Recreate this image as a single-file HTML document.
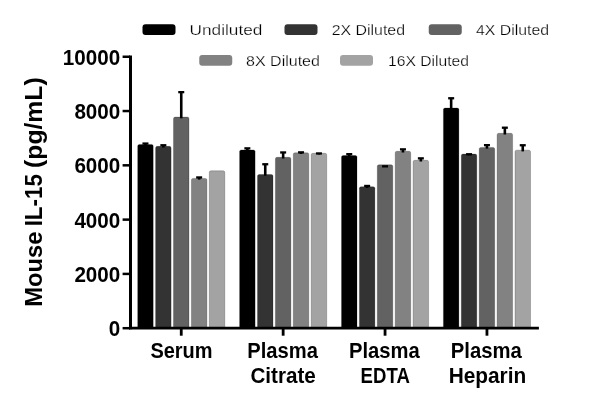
<!DOCTYPE html>
<html><head><meta charset="utf-8"><style>
html,body{margin:0;padding:0;background:#fff;width:600px;height:415px;overflow:hidden;}
svg{display:block;filter:grayscale(100%);}
</style></head><body>
<svg width="600" height="415" viewBox="0 0 600 415" font-family='"Liberation Sans", sans-serif'>
<rect x="0" y="0" width="600" height="415" fill="#fff"/>
<rect x="137.70" y="144.40" width="15.50" height="184.10" rx="1.6" fill="#000000" stroke="#000" stroke-width="0.6" stroke-opacity="0.35"/>
<rect x="155.60" y="146.35" width="15.50" height="182.15" rx="1.6" fill="#333333" stroke="#000" stroke-width="0.6" stroke-opacity="0.35"/>
<rect x="173.50" y="117.10" width="15.50" height="211.40" rx="1.6" fill="#626262" stroke="#000" stroke-width="0.6" stroke-opacity="0.35"/>
<rect x="191.40" y="178.40" width="15.50" height="150.10" rx="1.6" fill="#828282" stroke="#000" stroke-width="0.6" stroke-opacity="0.35"/>
<rect x="209.30" y="170.80" width="15.50" height="157.70" rx="1.6" fill="#a3a3a3" stroke="#000" stroke-width="0.6" stroke-opacity="0.35"/>
<rect x="239.60" y="149.90" width="15.50" height="178.60" rx="1.6" fill="#000000" stroke="#000" stroke-width="0.6" stroke-opacity="0.35"/>
<rect x="257.50" y="174.50" width="15.50" height="154.00" rx="1.6" fill="#333333" stroke="#000" stroke-width="0.6" stroke-opacity="0.35"/>
<rect x="275.40" y="157.30" width="15.50" height="171.20" rx="1.6" fill="#626262" stroke="#000" stroke-width="0.6" stroke-opacity="0.35"/>
<rect x="293.30" y="152.80" width="15.50" height="175.70" rx="1.6" fill="#828282" stroke="#000" stroke-width="0.6" stroke-opacity="0.35"/>
<rect x="311.20" y="153.30" width="15.50" height="175.20" rx="1.6" fill="#a3a3a3" stroke="#000" stroke-width="0.6" stroke-opacity="0.35"/>
<rect x="341.50" y="155.50" width="15.50" height="173.00" rx="1.6" fill="#000000" stroke="#000" stroke-width="0.6" stroke-opacity="0.35"/>
<rect x="359.40" y="186.70" width="15.50" height="141.80" rx="1.6" fill="#333333" stroke="#000" stroke-width="0.6" stroke-opacity="0.35"/>
<rect x="377.30" y="164.80" width="15.50" height="163.70" rx="1.6" fill="#626262" stroke="#000" stroke-width="0.6" stroke-opacity="0.35"/>
<rect x="395.20" y="151.30" width="15.50" height="177.20" rx="1.6" fill="#828282" stroke="#000" stroke-width="0.6" stroke-opacity="0.35"/>
<rect x="413.10" y="160.30" width="15.50" height="168.20" rx="1.6" fill="#a3a3a3" stroke="#000" stroke-width="0.6" stroke-opacity="0.35"/>
<rect x="443.40" y="108.00" width="15.50" height="220.50" rx="1.6" fill="#000000" stroke="#000" stroke-width="0.6" stroke-opacity="0.35"/>
<rect x="461.30" y="154.10" width="15.50" height="174.40" rx="1.6" fill="#333333" stroke="#000" stroke-width="0.6" stroke-opacity="0.35"/>
<rect x="479.20" y="147.40" width="15.50" height="181.10" rx="1.6" fill="#626262" stroke="#000" stroke-width="0.6" stroke-opacity="0.35"/>
<rect x="497.10" y="133.30" width="15.50" height="195.20" rx="1.6" fill="#828282" stroke="#000" stroke-width="0.6" stroke-opacity="0.35"/>
<rect x="515.00" y="150.20" width="15.50" height="178.30" rx="1.6" fill="#a3a3a3" stroke="#000" stroke-width="0.6" stroke-opacity="0.35"/>
<line x1="145.45" y1="145.60" x2="145.45" y2="143.50" stroke="#000" stroke-width="2.6"/>
<line x1="142.45" y1="143.55" x2="148.45" y2="143.55" stroke="#000" stroke-width="2.3"/>
<line x1="163.35" y1="147.55" x2="163.35" y2="145.20" stroke="#000" stroke-width="2.6"/>
<line x1="160.35" y1="145.25" x2="166.35" y2="145.25" stroke="#000" stroke-width="2.3"/>
<line x1="181.25" y1="118.30" x2="181.25" y2="92.10" stroke="#000" stroke-width="2.6"/>
<line x1="178.25" y1="92.15" x2="184.25" y2="92.15" stroke="#000" stroke-width="2.3"/>
<line x1="199.15" y1="179.60" x2="199.15" y2="177.40" stroke="#000" stroke-width="2.6"/>
<line x1="196.15" y1="177.45" x2="202.15" y2="177.45" stroke="#000" stroke-width="2.3"/>
<line x1="247.35" y1="151.10" x2="247.35" y2="148.30" stroke="#000" stroke-width="2.6"/>
<line x1="244.35" y1="148.35" x2="250.35" y2="148.35" stroke="#000" stroke-width="2.3"/>
<line x1="265.25" y1="175.70" x2="265.25" y2="164.20" stroke="#000" stroke-width="2.6"/>
<line x1="262.25" y1="164.25" x2="268.25" y2="164.25" stroke="#000" stroke-width="2.3"/>
<line x1="283.15" y1="158.50" x2="283.15" y2="152.40" stroke="#000" stroke-width="2.6"/>
<line x1="280.15" y1="152.45" x2="286.15" y2="152.45" stroke="#000" stroke-width="2.3"/>
<line x1="301.05" y1="154.00" x2="301.05" y2="152.30" stroke="#000" stroke-width="2.6"/>
<line x1="298.05" y1="152.35" x2="304.05" y2="152.35" stroke="#000" stroke-width="2.3"/>
<line x1="318.95" y1="154.50" x2="318.95" y2="153.40" stroke="#000" stroke-width="2.6"/>
<line x1="315.95" y1="153.45" x2="321.95" y2="153.45" stroke="#000" stroke-width="2.3"/>
<line x1="349.25" y1="156.70" x2="349.25" y2="154.10" stroke="#000" stroke-width="2.6"/>
<line x1="346.25" y1="154.15" x2="352.25" y2="154.15" stroke="#000" stroke-width="2.3"/>
<line x1="367.15" y1="187.90" x2="367.15" y2="185.90" stroke="#000" stroke-width="2.6"/>
<line x1="364.15" y1="185.95" x2="370.15" y2="185.95" stroke="#000" stroke-width="2.3"/>
<line x1="385.05" y1="166.00" x2="385.05" y2="166.30" stroke="#000" stroke-width="2.6"/>
<line x1="382.05" y1="166.35" x2="388.05" y2="166.35" stroke="#000" stroke-width="2.3"/>
<line x1="402.95" y1="152.50" x2="402.95" y2="149.30" stroke="#000" stroke-width="2.6"/>
<line x1="399.95" y1="149.35" x2="405.95" y2="149.35" stroke="#000" stroke-width="2.3"/>
<line x1="420.85" y1="161.50" x2="420.85" y2="158.30" stroke="#000" stroke-width="2.6"/>
<line x1="417.85" y1="158.35" x2="423.85" y2="158.35" stroke="#000" stroke-width="2.3"/>
<line x1="451.15" y1="109.20" x2="451.15" y2="98.20" stroke="#000" stroke-width="2.6"/>
<line x1="448.15" y1="98.25" x2="454.15" y2="98.25" stroke="#000" stroke-width="2.3"/>
<line x1="469.05" y1="155.30" x2="469.05" y2="154.20" stroke="#000" stroke-width="2.6"/>
<line x1="466.05" y1="154.25" x2="472.05" y2="154.25" stroke="#000" stroke-width="2.3"/>
<line x1="486.95" y1="148.60" x2="486.95" y2="145.10" stroke="#000" stroke-width="2.6"/>
<line x1="483.95" y1="145.15" x2="489.95" y2="145.15" stroke="#000" stroke-width="2.3"/>
<line x1="504.85" y1="134.50" x2="504.85" y2="127.65" stroke="#000" stroke-width="2.6"/>
<line x1="501.85" y1="127.70" x2="507.85" y2="127.70" stroke="#000" stroke-width="2.3"/>
<line x1="522.75" y1="151.40" x2="522.75" y2="145.20" stroke="#000" stroke-width="2.6"/>
<line x1="519.75" y1="145.25" x2="525.75" y2="145.25" stroke="#000" stroke-width="2.3"/>
<line x1="130.5" y1="55.5" x2="130.5" y2="329.2" stroke="#000" stroke-width="3"/>
<line x1="129" y1="328.20" x2="538.9" y2="328.20" stroke="#000" stroke-width="2.7"/>
<line x1="122.6" y1="328.20" x2="130" y2="328.20" stroke="#000" stroke-width="2.5"/>
<text x="108.87" y="336.08" font-size="22.20" font-weight="bold" textLength="11.48" lengthAdjust="spacingAndGlyphs">0</text>
<line x1="122.6" y1="273.91" x2="130" y2="273.91" stroke="#000" stroke-width="2.5"/>
<text x="74.39" y="281.79" font-size="22.20" font-weight="bold" textLength="45.93" lengthAdjust="spacingAndGlyphs">2000</text>
<line x1="122.6" y1="219.62" x2="130" y2="219.62" stroke="#000" stroke-width="2.5"/>
<text x="74.39" y="227.50" font-size="22.20" font-weight="bold" textLength="45.93" lengthAdjust="spacingAndGlyphs">4000</text>
<line x1="122.6" y1="165.33" x2="130" y2="165.33" stroke="#000" stroke-width="2.5"/>
<text x="74.39" y="173.21" font-size="22.20" font-weight="bold" textLength="45.93" lengthAdjust="spacingAndGlyphs">6000</text>
<line x1="122.6" y1="111.04" x2="130" y2="111.04" stroke="#000" stroke-width="2.5"/>
<text x="74.39" y="118.92" font-size="22.20" font-weight="bold" textLength="45.93" lengthAdjust="spacingAndGlyphs">8000</text>
<line x1="122.6" y1="56.75" x2="130" y2="56.75" stroke="#000" stroke-width="2.5"/>
<text x="62.83" y="64.63" font-size="22.20" font-weight="bold" textLength="57.41" lengthAdjust="spacingAndGlyphs">10000</text>
<line x1="181.25" y1="328.20" x2="181.25" y2="335.7" stroke="#000" stroke-width="2.8"/>
<line x1="283.15" y1="328.20" x2="283.15" y2="335.7" stroke="#000" stroke-width="2.8"/>
<line x1="385.05" y1="328.20" x2="385.05" y2="335.7" stroke="#000" stroke-width="2.8"/>
<line x1="486.95" y1="328.20" x2="486.95" y2="335.7" stroke="#000" stroke-width="2.8"/>
<text x="150.40" y="358.49" font-size="21.20" font-weight="bold" textLength="62.14" lengthAdjust="spacingAndGlyphs">Serum</text>
<text x="247.29" y="358.49" font-size="21.20" font-weight="bold" textLength="70.56" lengthAdjust="spacingAndGlyphs">Plasma</text>
<text x="250.42" y="382.59" font-size="21.20" font-weight="bold" textLength="65.35" lengthAdjust="spacingAndGlyphs">Citrate</text>
<text x="348.99" y="358.49" font-size="21.20" font-weight="bold" textLength="70.76" lengthAdjust="spacingAndGlyphs">Plasma</text>
<text x="360.60" y="382.80" font-size="21.20" font-weight="bold" textLength="49.22" lengthAdjust="spacingAndGlyphs">EDTA</text>
<text x="450.78" y="358.49" font-size="21.20" font-weight="bold" textLength="70.97" lengthAdjust="spacingAndGlyphs">Plasma</text>
<text x="448.64" y="382.80" font-size="21.20" font-weight="bold" textLength="77.58" lengthAdjust="spacingAndGlyphs">Heparin</text>
<text transform="translate(42.02,305.20) rotate(-90)" x="-1.66" y="0" font-size="23.5" font-weight="bold" textLength="75.24" lengthAdjust="spacingAndGlyphs">Mouse</text>
<text transform="translate(42.02,224.80) rotate(-90)" x="-1.57" y="0" font-size="23.5" font-weight="bold" textLength="52.31" lengthAdjust="spacingAndGlyphs">IL-15</text>
<text transform="translate(42.02,166.70) rotate(-90)" x="-1.24" y="0" font-size="23.5" font-weight="bold" textLength="90.56" lengthAdjust="spacingAndGlyphs">(pg/mL)</text>
<rect x="142.50" y="24.20" width="33" height="10.8" rx="3" fill="#000000"/>
<text x="189.62" y="34.65" font-size="15.00" textLength="72.70" lengthAdjust="spacingAndGlyphs" stroke="#fff" stroke-width="0.25">Undiluted</text>
<rect x="284.50" y="24.20" width="33" height="10.8" rx="3" fill="#333333"/>
<text x="331.71" y="34.65" font-size="15.00" textLength="73.31" lengthAdjust="spacingAndGlyphs" stroke="#fff" stroke-width="0.25">2X Diluted</text>
<rect x="428.75" y="24.20" width="33" height="10.8" rx="3" fill="#626262"/>
<text x="475.98" y="34.65" font-size="15.00" textLength="73.03" lengthAdjust="spacingAndGlyphs" stroke="#fff" stroke-width="0.25">4X Diluted</text>
<rect x="199.25" y="55.00" width="33" height="10.8" rx="3" fill="#828282"/>
<text x="246.06" y="65.75" font-size="15.00" textLength="73.86" lengthAdjust="spacingAndGlyphs" stroke="#fff" stroke-width="0.25">8X Diluted</text>
<rect x="340.00" y="55.00" width="33" height="10.8" rx="3" fill="#a3a3a3"/>
<text x="388.05" y="65.75" font-size="15.00" textLength="80.89" lengthAdjust="spacingAndGlyphs" stroke="#fff" stroke-width="0.25">16X Diluted</text>
</svg>
</body></html>
